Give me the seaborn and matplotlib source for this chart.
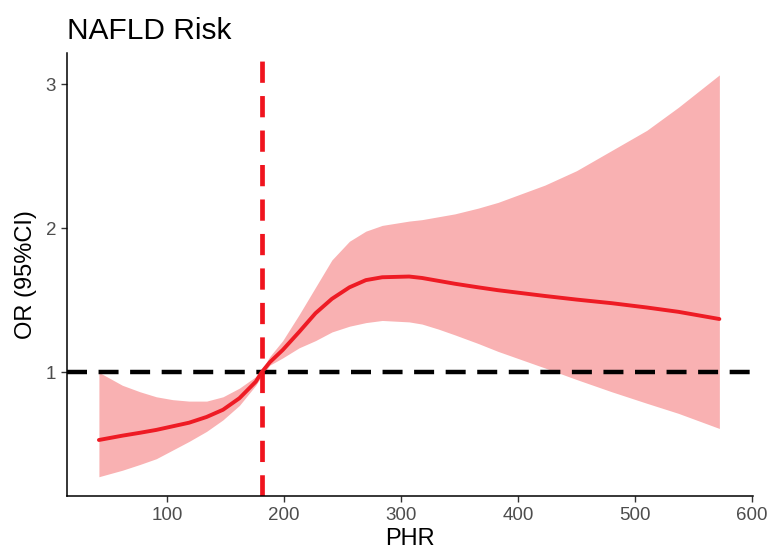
import matplotlib
matplotlib.use("Agg")
import matplotlib.pyplot as plt
import seaborn as sns
import pandas as pd

# ---- data ----
phr = [42, 62, 77, 91, 105, 119, 134, 148, 162, 176, 181, 188, 199, 213, 227,
       241, 256, 270, 284, 307, 318, 332, 346, 366, 383, 423, 450, 480, 510,
       537, 572]
or_est = [0.53, 0.56, 0.58, 0.60, 0.625, 0.65, 0.69, 0.74, 0.82, 0.935, 1.0,
          1.07, 1.155, 1.28, 1.41, 1.51, 1.59, 1.64, 1.66, 1.665, 1.655,
          1.635, 1.615, 1.59, 1.57, 1.53, 1.505, 1.48, 1.45, 1.42, 1.37]
ci_lower = [0.275, 0.32, 0.36, 0.40, 0.46, 0.52, 0.59, 0.67, 0.77, 0.91,
            0.975, 1.05, 1.10, 1.17, 1.22, 1.28, 1.32, 1.345, 1.36, 1.35,
            1.335, 1.30, 1.26, 1.20, 1.145, 1.03, 0.95, 0.865, 0.785, 0.715,
            0.61]
ci_upper = [1.0, 0.91, 0.865, 0.83, 0.81, 0.80, 0.80, 0.83, 0.89, 0.97,
            1.015, 1.11, 1.22, 1.40, 1.59, 1.78, 1.91, 1.98, 2.02, 2.05,
            2.06, 2.08, 2.10, 2.14, 2.18, 2.30, 2.40, 2.54, 2.68, 2.84, 3.065]
cutoff = 181
reference_or = 1
x_ticks = [100, 200, 300, 400, 500, 600]
y_ticks = [1, 2, 3]
title = "NAFLD Risk"
x_label = "PHR"
y_label = "OR (95%CI)"

df = pd.DataFrame({"PHR": phr, "OR": or_est, "lo": ci_lower, "hi": ci_upper})

sns.set_style("white")
plt.rcParams["font.family"] = ["Liberation Sans", "DejaVu Sans"]

fig = plt.figure(figsize=(7.71, 5.57), dpi=100)
ax = fig.add_axes([0.0873, 0.110, 0.889, 0.7943])

ax.fill_between(df["PHR"], df["lo"], df["hi"], color="#F9B1B2", linewidth=0, zorder=1)
ax.axhline(reference_or, color="black", linewidth=3.2, linestyle=(0, (4.5, 2.6)), zorder=2)
ax.axvline(cutoff, color="#F0141E", linewidth=3.4, linestyle=(0, (4.5, 2.8)), zorder=2)
sns.lineplot(data=df, x="PHR", y="OR", color="#EE1B24", linewidth=2.8, ax=ax, zorder=3)

ax.set_xlim(15, 600.5)
ax.set_ylim(0.143, 3.215)
ax.set_xticks(x_ticks)
ax.set_yticks(y_ticks)
ax.set_xticklabels([str(t) for t in x_ticks])
ax.set_yticklabels([str(t) for t in y_ticks])

for side in ["top", "right"]:
    ax.spines[side].set_visible(False)
for side in ["left", "bottom"]:
    ax.spines[side].set_color("black")
    ax.spines[side].set_linewidth(1.1)

ax.tick_params(axis="both", which="major", length=4, width=1, color="#333333",
               labelcolor="#4D4D4D", labelsize=13.5, pad=4, direction="out",
               bottom=True, left=True)

ax.set_xlabel(x_label, fontsize=17, color="black", labelpad=3)
ax.set_ylabel(y_label, fontsize=17, color="black", labelpad=6)
ax.set_title(title, fontsize=21.5, loc="left", color="black", pad=10, x=0.0)

fig.savefig("out.png", dpi=100)
